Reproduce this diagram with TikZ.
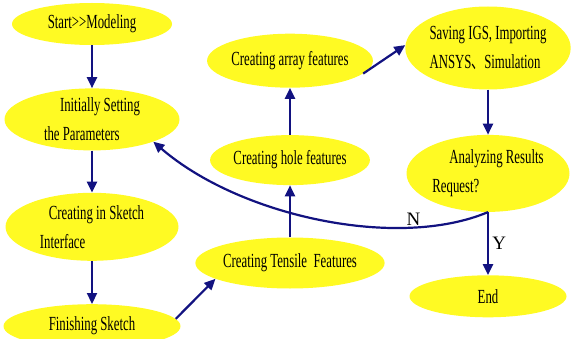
\documentclass[tikz,border=0pt]{standalone}
\usepackage{fontspec}
\setmainfont[FakeStretch=0.64]{Liberation Serif}
\newfontfamily\labelfont{Liberation Serif}
\newfontfamily\cjk[FakeStretch=0.64]{Noto Sans CJK SC}
\usetikzlibrary{positioning, shapes.geometric, arrows.meta}
\definecolor{stepyellow}{RGB}{255,250,35}
\definecolor{flownavy}{RGB}{18,18,128}

\begin{document}
\begin{tikzpicture}[
  x=1pt, y=-1pt,
  font=\fontsize{20}{29}\selectfont,
  stage/.style ={ellipse, fill=stepyellow, inner sep=0pt, align=left},
  flow/.style  ={-{Triangle[length=11pt, width=10pt]}, line width=2.2pt, flownavy},
  lbl/.style   ={font=\labelfont\fontsize{19}{22}\selectfont, text=black}
]
\useasboundingbox (0,0) rectangle (572,339);

% ---------- Column 1: modeling ----------
\node[stage, minimum width=160pt, minimum height=42pt] (start) at (92,24) {Start>{}>Modeling};
\node[stage, minimum width=175pt, minimum height=62pt, below=43pt of start]  (init)   {\hspace*{16pt}Initially Setting\\the Parameters};
\node[stage, minimum width=173pt, minimum height=68pt, below=42pt of init]   (sketch) {\hspace*{9pt}Creating in Sketch\\Interface};
\node[stage, minimum width=177pt, minimum height=44pt, below=43pt of sketch] (finish) {Finishing Sketch};

% ---------- Column 2: features ----------
\node[stage, minimum width=158pt, minimum height=51pt] (tensile) at (290,263) {Creating Tensile\ \ Features};
\node[stage, minimum width=150pt, minimum height=50pt, above=52pt of tensile] (hole)  {Creating hole features};
\node[stage, minimum width=158pt, minimum height=54pt, above=47pt of hole]    (array) {Creating array features};

% ---------- Column 3: analysis ----------
\node[stage, minimum width=160pt, minimum height=83pt] (save) at (488,48) {Saving IGS, Importing\\ANSYS{\cjk 、}Simulation};
\node[stage, minimum width=163pt, minimum height=77pt, below=45pt of save] (ana)  {\hspace*{17pt}Analyzing Results\\Request?};
\node[stage, minimum width=157pt, minimum height=42pt, below=63pt of ana]  (stop) {End};

% ---------- Arrows ----------
\draw[flow] (start)      -- (init);
\draw[flow] (init)       -- (sketch);
\draw[flow] (sketch)     -- (finish);
\draw[flow] (finish.5)   -- (tensile.192);
\draw[flow] (tensile)    -- (hole);
\draw[flow] (hole)       -- (array);
\draw[flow] (array.350)  -- (save.178);
\draw[flow] (save)       -- (ana);
\draw[flow] (ana.south)  -- node[lbl, right] {Y} (stop);
\draw[flow] (ana.south)  .. controls +(-90,38) and +(87,75) .. node[lbl, pos=0.24, above=-2pt] {N} (init.-20);

\end{tikzpicture}
\end{document}
